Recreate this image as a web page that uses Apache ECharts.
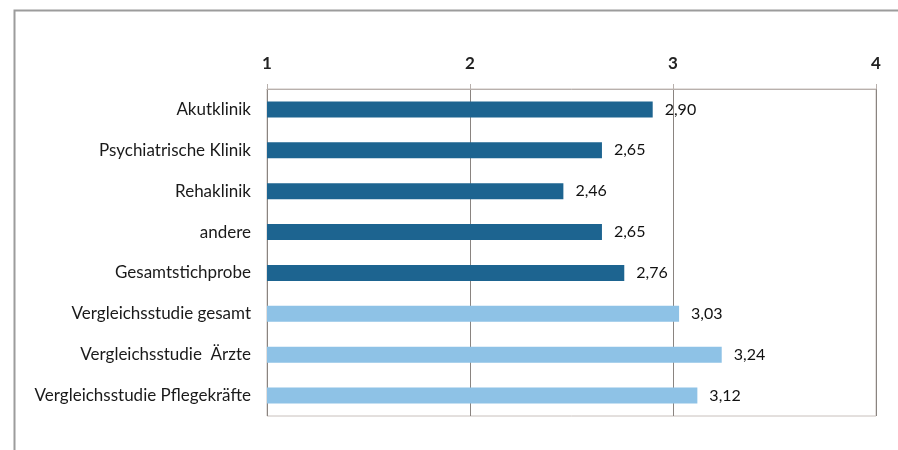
<!DOCTYPE html>
<html><head><meta charset="utf-8">
<script src="https://cdn.jsdelivr.net/npm/echarts@6/dist/echarts.min.js"></script>
<style>html,body{margin:0;padding:0;background:#fff;}#c{width:898px;height:450px;}</style>
</head><body><div id="c"></div>
<script>
var categories = ['Akutklinik','Psychiatrische Klinik','Rehaklinik','andere','Gesamtstichprobe','Vergleichsstudie gesamt','Vergleichsstudie  Ärzte','Vergleichsstudie Pflegekräfte'];
var values = [2.90, 2.65, 2.46, 2.65, 2.76, 3.03, 3.24, 3.12];
var groupColors = ['#1d6490','#1d6490','#1d6490','#1d6490','#1d6490','#8ec2e6','#8ec2e6','#8ec2e6'];
var tickValues = [1, 2, 3, 4];

var chart = echarts.init(document.getElementById('c'));
var font = 'Lato, "Open Sans", sans-serif';
chart.setOption({
  animation: false,
  graphic: [{
    type: 'rect', left: 12, top: 8,
    shape: {width: 1000, height: 600},
    style: {fill: 'none', stroke: '#9c9c9c', lineWidth: 2}, z: -1
  }],
  grid: {left: 267, right: 22, top: 89, bottom: 34, show: true, borderColor: '#c8c0bc', borderWidth: 1, backgroundColor: 'transparent'},
  xAxis: {
    type: 'value', position: 'top', min: tickValues[0], max: tickValues[tickValues.length - 1], interval: 1,
    axisLine: {show: true, lineStyle: {color: '#b8b0ac'}},
    axisTick: {show: true, length: 5, lineStyle: {color: '#b8b0ac'}},
    axisLabel: {color: '#222', fontSize: 17, fontWeight: 'bold', fontFamily: font, margin: 17},
    splitLine: {show: true, lineStyle: {color: '#8a8480', width: 1}}
  },
  yAxis: {
    type: 'category', inverse: true, data: categories,
    axisLine: {show: false}, axisTick: {show: false},
    axisLabel: {color: '#1a1a1a', fontSize: 17, fontFamily: font, margin: 16}
  },
  series: [{
    type: 'bar', barWidth: 16,
    data: values.map(function (v, i) { return {value: v, itemStyle: {color: groupColors[i]}}; }),
    label: {
      show: true, position: 'right', distance: 12, color: '#111', fontSize: 16, fontFamily: font,
      formatter: function (p) { return p.value.toFixed(2).replace('.', ','); }
    }
  }]
});
</script></body></html>
